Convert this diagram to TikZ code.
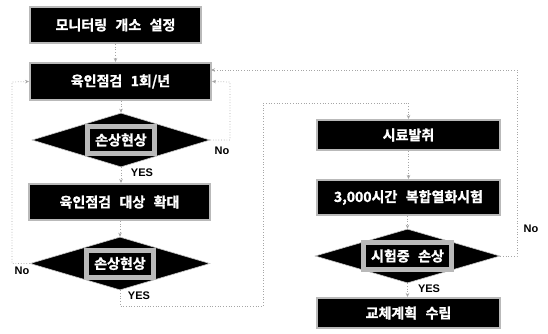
\documentclass[tikz,border=0pt]{standalone}
\usepackage{fontspec}
\newfontfamily\kr[FakeBold=1.2]{Noto Sans CJK KR Bold}
\newfontfamily\lat{Liberation Sans}
\usetikzlibrary{shapes.geometric,arrows.meta}
\newcommand{\ksp}{\hspace{0.6em}}
\tikzset{
  boxnode/.style={rectangle, fill=black, draw=gray!55, line width=2pt, text=white,
    font=\kr\fontsize{14}{16}\selectfont, inner sep=0pt},
  dianode/.style={diamond, fill=black, draw=gray!40, line width=0.6pt, inner sep=0pt},
  dlabel/.style={rectangle, fill=black, draw=gray!55, line width=5pt, text=white,
    font=\kr\fontsize{14}{16}\selectfont, inner xsep=8pt, inner ysep=2pt, minimum height=27pt},
  conn/.style={draw=gray!70, line width=0.7pt, dotted, -{Stealth[length=4pt,width=3.5pt]}},
  lbl/.style={font=\lat\bfseries\fontsize{11}{12}\selectfont, text=black, inner sep=0pt}
}
\begin{document}
\begin{tikzpicture}[x=1pt,y=-1pt]
\useasboundingbox (0,0) rectangle (548,333);
% left column
\node[boxnode, minimum width=171pt, minimum height=36pt] (b1) at (115.5,25) {모니터링\ksp 개소\ksp 설정};
\node[boxnode, minimum width=181pt, minimum height=37pt] (b2) at (120.5,81.5) {육인점검\ksp 1회/년};
\node[dianode, minimum width=178pt, minimum height=54pt] (d1) at (121,140) {};
\node[dlabel] (d1t) at (d1.center) {손상현상};
\node[boxnode, minimum width=181pt, minimum height=36pt] (b3) at (119.5,202) {육인점검\ksp 대상\ksp 확대};
\node[dianode, minimum width=180pt, minimum height=53pt] (d2) at (120,263.5) {};
\node[dlabel] (d2t) at (d2.center) {손상현상};
% right column
\node[boxnode, minimum width=183pt, minimum height=30pt] (b4) at (408.5,135) {시료발취};
\node[boxnode, minimum width=183pt, minimum height=35pt] (b5) at (408.5,197.5) {3,000시간\ksp 복합열화시험};
\node[dianode, minimum width=185pt, minimum height=54pt] (d3) at (407.5,256) {};
\node[dlabel] (d3t) at (d3.center) {시험중\ksp 손상};
\node[boxnode, minimum width=183pt, minimum height=30pt] (b6) at (408.5,313) {교체계획\ksp 수립};
% labels
\node[lbl] (no1) at (222,151) {No};
\node[lbl] (yes1) at (142,173) {YES};
\node[lbl] (no2) at (22,271) {No};
\node[lbl] (yes2) at (139,296) {YES};
\node[lbl] (yes3) at (429,289) {YES};
\node[lbl] (no3) at (531,229) {No};
% coordinates
\coordinate (c1) at (230,140);
\coordinate (c2) at (230,82);
\coordinate (c3) at (12,263.5);
\coordinate (c4) at (12,82);
\coordinate (c5) at (120,306);
\coordinate (c6) at (263,306);
\coordinate (c7) at (263,103);
\coordinate (c8) at (408.5,103);
\coordinate (c9) at (517,256);
\coordinate (c10) at (517,70);
\coordinate (c11) at (211,70);
% connectors
\draw[conn] (b1.south) -- (b1.south |- b2.north);
\draw[conn] (b2.south -| d1.north) -- (d1.north);
\draw[conn] (d1.east) -- (c1) -- (c2) -- (b2.east);
\draw[conn] (d1.south) -- (d1.south |- b3.north);
\draw[conn] (b3.south -| d2.north) -- (d2.north);
\draw[conn] (d2.west) -- (c3) -- (c4) -- (b2.west);
\draw[conn] (d2.south) -- (c5) -- (c6) -- (c7) -- (c8) -- (b4.north);
\draw[conn] (b4.south) -- (b5.north);
\draw[conn] (b5.south -| d3.north) -- (d3.north);
\draw[conn] (d3.south) -- (d3.south |- b6.north);
\draw[conn] (d3.east) -- (c9) -- (c10) -- (c11);
\end{tikzpicture}
\end{document}
